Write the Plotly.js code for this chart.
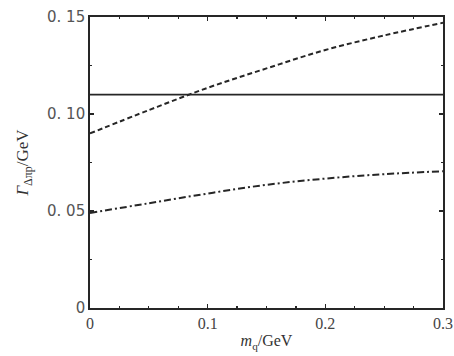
<!DOCTYPE html>
<html>
<head>
<meta charset="utf-8">
<script src="https://cdn.plot.ly/plotly-3.0.1.min.js"></script>
<style>html,body{margin:0;padding:0;background:#fff;}#chart{width:454px;height:356px;}</style>
</head>
<body>
<div id="chart"></div>
<script>
const mq = [0, 0.05, 0.1, 0.15, 0.2, 0.25, 0.3];
const gammaSolid = [0.110, 0.110, 0.110, 0.110, 0.110, 0.110, 0.110];
const gammaDashed = [0.090, 0.102, 0.1135, 0.1235, 0.133, 0.1405, 0.147];
const gammaDashDot = [0.049, 0.054, 0.059, 0.0635, 0.0667, 0.069, 0.0705];
const yTickVals = [0, 0.05, 0.10, 0.15];
const yTickText = ["0", "0. 05", "0. 10", "0. 15"];
const xTickVals = [0, 0.1, 0.2, 0.3];
const xTickText = ["0", "0.1", "0.2", "0.3"];

const lineColor = '#262626';
const traces = [
  {x: mq, y: gammaSolid, mode: 'lines', line: {color: lineColor, width: 1.8}},
  {x: mq, y: gammaDashed, mode: 'lines', line: {color: lineColor, width: 2, dash: '5px,3px', shape: 'spline'}},
  {x: mq, y: gammaDashDot, mode: 'lines', line: {color: lineColor, width: 2, dash: '7px,3px,2px,3px', shape: 'spline'}}
];

const layout = {
  width: 454, height: 356,
  margin: {l: 90, r: 11, t: 17, b: 48},
  showlegend: false,
  paper_bgcolor: '#fff', plot_bgcolor: '#fff',
  font: {family: 'Liberation Serif, serif', color: '#333'},
  xaxis: {
    range: [0, 0.3], tickvals: xTickVals, ticktext: xTickText,
    ticks: 'inside', ticklen: 4, tickcolor: lineColor, tickwidth: 1.2,
    showline: true, linecolor: lineColor, linewidth: 1.8, mirror: 'allticks',
    showgrid: false, zeroline: false,
    tickfont: {size: 16, color: '#444', family: 'Liberation Serif, serif'},
    minor: {dtick: 0.025, ticks: 'inside', ticklen: 2, tickcolor: lineColor, showgrid: false},
    title: {text: '<i>m</i><sub>q</sub>/GeV', font: {size: 16, color: '#333'}, standoff: 4}
  },
  yaxis: {
    range: [0, 0.15], tickvals: yTickVals, ticktext: yTickText,
    ticks: 'inside', ticklen: 4, tickcolor: lineColor, tickwidth: 1.2,
    showline: true, linecolor: lineColor, linewidth: 1.8, mirror: 'allticks',
    showgrid: false, zeroline: false,
    tickfont: {size: 15, color: '#555', family: 'DejaVu Sans, sans-serif'},
    minor: {dtick: 0.025, ticks: 'inside', ticklen: 2, tickcolor: lineColor, showgrid: false},
    title: {text: '<i>Γ</i><sub>Δπp</sub>/GeV', font: {size: 17, color: '#333'}, standoff: 14}
  }
};
Plotly.newPlot('chart', traces, layout, {displayModeBar: false, staticPlot: true});
</script>
</body>
</html>
